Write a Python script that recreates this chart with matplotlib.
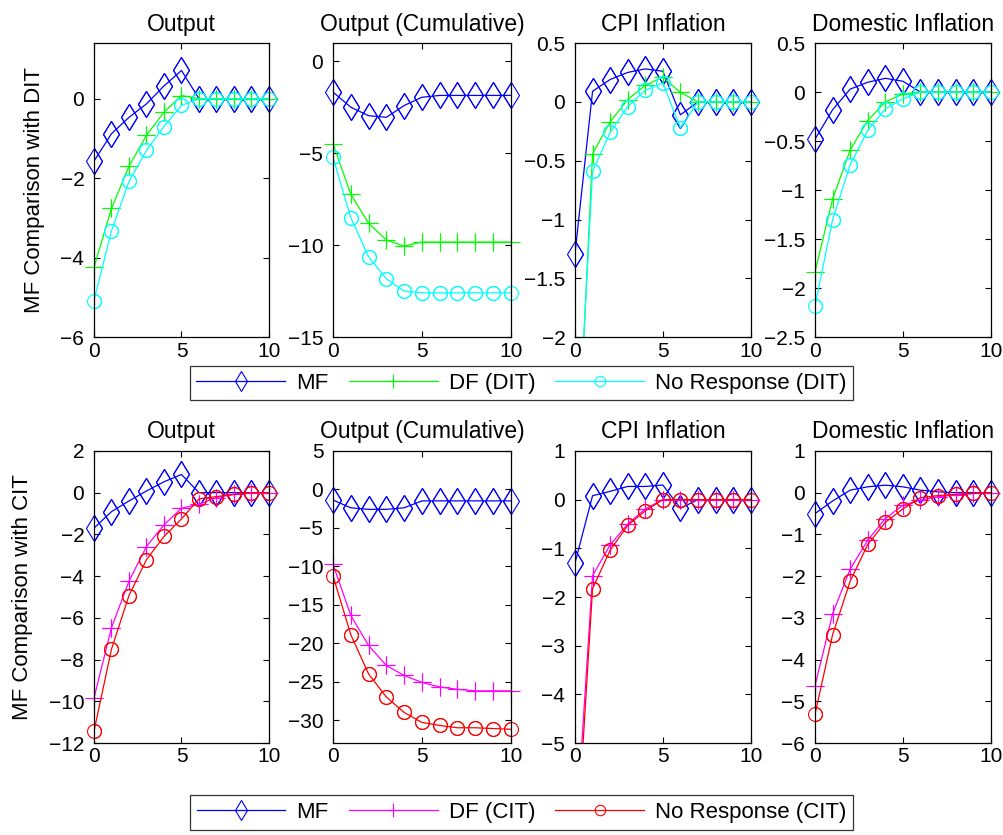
import matplotlib
matplotlib.use("Agg")
import matplotlib.pyplot as plt
from matplotlib.ticker import FuncFormatter

# Horizon
periods = list(range(11))

# Panel titles and row labels
titles = ["Output", "Output (Cumulative)", "CPI Inflation", "Domestic Inflation"]
row_labels = ["MF Comparison with DIT", "MF Comparison with CIT"]
top_names = ["MF", "DF (DIT)", "No Response (DIT)"]
bottom_names = ["MF", "DF (CIT)", "No Response (CIT)"]

# Top row (DIT)
top_output_mf = [-1.57, -0.88, -0.47, -0.13, 0.32, 0.71, 0, 0, 0, 0, 0]
top_output_df = [-4.24, -2.76, -1.70, -0.92, -0.34, 0.08, 0, 0, 0, 0, 0]
top_output_nr = [-5.08, -3.32, -2.08, -1.30, -0.70, -0.17, 0, 0, 0, 0, 0]

top_cum_mf = [-1.67, -2.49, -2.95, -3.04, -2.40, -1.95, -1.85, -1.85, -1.85, -1.85, -1.85]
top_cum_df = [-4.49, -7.22, -8.80, -9.71, -10.04, -9.82, -9.82, -9.82, -9.82, -9.82, -9.82]
top_cum_nr = [-5.22, -8.49, -10.62, -11.82, -12.49, -12.58, -12.58, -12.58, -12.58, -12.58, -12.58]

top_cpi_mf = [-1.29, 0.09, 0.19, 0.25, 0.28, 0.26, -0.11, 0, 0, 0, 0]
top_cpi_df = [-3.6, -0.44, -0.17, 0.02, 0.14, 0.21, 0.08, 0, 0, 0, 0]
top_cpi_nr = [-3.4, -0.59, -0.26, -0.04, 0.10, 0.16, -0.22, 0, 0, 0, 0]

top_dom_mf = [-0.48, -0.18, 0.03, 0.10, 0.14, 0.11, 0, 0, 0, 0, 0]
top_dom_df = [-1.83, -1.09, -0.59, -0.29, -0.10, -0.02, 0, 0, 0, 0, 0]
top_dom_nr = [-2.18, -1.30, -0.74, -0.39, -0.17, -0.07, 0, 0, 0, 0, 0]

# Bottom row (CIT)
bot_output_mf = [-1.70, -0.91, -0.40, 0.08, 0.52, 0.87, 0, 0, 0, 0, 0]
bot_output_df = [-9.84, -6.47, -4.24, -2.58, -1.54, -0.75, -0.55, -0.24, -0.08, 0, 0]
bot_output_nr = [-11.43, -7.50, -4.93, -3.21, -2.10, -1.26, -0.30, -0.19, -0.08, 0, 0]

bot_cum_mf = [-1.39, -2.40, -2.60, -2.60, -2.40, -1.50, -1.50, -1.50, -1.50, -1.50, -1.50]
bot_cum_df = [-9.74, -16.4, -20.3, -22.9, -24.2, -25.1, -25.7, -26.0, -26.2, -26.2, -26.2]
bot_cum_nr = [-11.26, -18.9, -24.0, -27.0, -29.0, -30.3, -30.7, -31.0, -31.0, -31.1, -31.2]

bot_cpi_mf = [-1.30, 0.08, 0.17, 0.27, 0.27, 0.30, -0.18, 0, 0, 0, 0]
bot_cpi_df = [-7.2, -1.56, -0.93, -0.50, -0.19, 0, 0, 0, 0, 0, 0]
bot_cpi_nr = [-7.7, -1.83, -1.04, -0.53, -0.23, 0, 0, 0, 0, 0, 0]

bot_dom_mf = [-0.50, -0.20, 0.06, 0.14, 0.18, 0.14, 0.06, 0.02, 0, 0, 0]
bot_dom_df = [-4.62, -2.90, -1.83, -1.14, -0.62, -0.30, -0.18, -0.10, -0.05, -0.02, 0]
bot_dom_nr = [-5.30, -3.40, -2.12, -1.24, -0.71, -0.39, -0.12, -0.07, -0.04, -0.02, 0]

# Axis limits and ticks for every panel
top_ylims = [(-6, 1.4), (-15, 1), (-2, 0.5), (-2.5, 0.5)]
top_yticks = [[-6, -4, -2, 0], [-15, -10, -5, 0],
              [-2, -1.5, -1, -0.5, 0, 0.5], [-2.5, -2, -1.5, -1, -0.5, 0, 0.5]]
bot_ylims = [(-12, 2), (-33, 5), (-5, 1), (-6, 1)]
bot_yticks = [[-12, -10, -8, -6, -4, -2, 0, 2], [-30, -25, -20, -15, -10, -5, 0, 5],
              [-5, -4, -3, -2, -1, 0, 1], [-6, -5, -4, -3, -2, -1, 0, 1]]

TEXT_FONT = ["Liberation Sans", "DejaVu Sans"]

lefts = [0.0936, 0.3317, 0.5727, 0.8118]
widths = [0.1743, 0.177, 0.175, 0.175]


def fmt(v, pos):
    return ("%g" % v).replace("-", "\u2212")


# Draws one series: clipped line, markers left unclipped like MATLAB does
def draw_series(ax, y, color, marker, size, ylim):
    line, = ax.plot(periods, y, color=color, marker=marker, markersize=size,
                    markerfacecolor="none", markeredgecolor=color,
                    markeredgewidth=0.8, linewidth=0.9)
    keep = [i for i in range(len(y)) if ylim[0] <= y[i] <= ylim[1]]
    ax.plot([periods[i] for i in keep], [y[i] for i in keep], linestyle="none",
            marker=marker, markersize=size, markerfacecolor="none",
            markeredgecolor=color, markeredgewidth=0.8, clip_on=False)
    return line


def setup_axes(ax, title, ylim, yticks):
    ax.set_xlim(0, 10)
    ax.set_ylim(*ylim)
    ax.set_xticks([0, 5, 10])
    ax.set_yticks(yticks)
    ax.yaxis.set_major_formatter(FuncFormatter(fmt))
    ax.tick_params(direction="in", top=True, right=True, length=4, width=0.8)
    ax.tick_params(axis="y", pad=7)
    ax.tick_params(axis="x", pad=3)
    for lab in ax.get_xticklabels() + ax.get_yticklabels():
        lab.set_family(TEXT_FONT)
        lab.set_fontsize(15)
    for s in ax.spines.values():
        s.set_linewidth(0.9)
    ax.set_title(title, family=TEXT_FONT, fontsize=16.5, pad=9)


def draw_row(fig, bottom, height, data, colors, ylims, yticks, ylabel):
    handles = None
    for i in range(4):
        ax = fig.add_axes([lefts[i], bottom, widths[i], height])
        mf, df, nr = data[i]
        h1 = draw_series(ax, mf, "#0000ff", "d", 13, ylims[i])
        h2 = draw_series(ax, df, colors[0], "+", 13, ylims[i])
        h3 = draw_series(ax, nr, colors[1], "o", 10, ylims[i])
        setup_axes(ax, titles[i], ylims[i], yticks[i])
        if i == 0:
            ax.set_ylabel(ylabel, family=TEXT_FONT, fontsize=16, labelpad=11)
            handles = [h1, h2, h3]
    return handles


def main():
    fig = plt.figure(figsize=(10.04, 8.35), dpi=100)

    top_data = [(top_output_mf, top_output_df, top_output_nr),
                (top_cum_mf, top_cum_df, top_cum_nr),
                (top_cpi_mf, top_cpi_df, top_cpi_nr),
                (top_dom_mf, top_dom_df, top_dom_nr)]
    bot_data = [(bot_output_mf, bot_output_df, bot_output_nr),
                (bot_cum_mf, bot_cum_df, bot_cum_nr),
                (bot_cpi_mf, bot_cpi_df, bot_cpi_nr),
                (bot_dom_mf, bot_dom_df, bot_dom_nr)]

    top_handles = draw_row(fig, 0.596, 0.3525, top_data, ["#00ff00", "#00ffff"],
                           top_ylims, top_yticks, row_labels[0])
    bot_handles = draw_row(fig, 0.110, 0.350, bot_data, ["#ff00ff", "#ff0000"],
                           bot_ylims, bot_yticks, row_labels[1])

    # Legends under each row
    for handles, names, ypos in [(top_handles, top_names, 0.541),
                                 (bot_handles, bottom_names, 0.027)]:
        leg = fig.legend(handles, names, loc="center", bbox_to_anchor=(0.5195, ypos),
                         ncol=3, frameon=True, fancybox=False, edgecolor="black",
                         handlelength=4.0, columnspacing=0.9, handletextpad=0.5,
                         borderpad=0.3, markerscale=0.75,
                         prop={"family": TEXT_FONT, "size": 16})
        leg.get_frame().set_linewidth(0.9)

    fig.savefig("out.png", dpi=100)


if __name__ == "__main__":
    main()
